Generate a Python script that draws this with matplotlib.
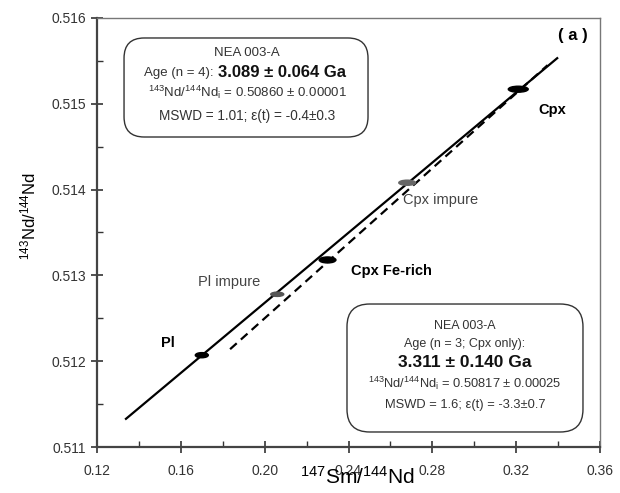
import matplotlib
matplotlib.use('Agg')
import matplotlib.pyplot as plt
from matplotlib.patches import Ellipse, FancyBboxPatch

plt.rcParams['font.family'] = ['Liberation Sans', 'DejaVu Sans']
plt.rcParams['mathtext.fontset'] = 'custom'
plt.rcParams['mathtext.rm'] = 'Liberation Sans'
plt.rcParams['mathtext.it'] = 'Liberation Sans:italic'
plt.rcParams['mathtext.bf'] = 'Liberation Sans:bold'

# dati
minerals = ["Pl", "Pl impure", "Cpx Fe-rich", "Cpx impure", "Cpx"]
sm_nd = [0.170, 0.206, 0.230, 0.268, 0.321]
nd_nd = [0.51207, 0.51278, 0.51318, 0.51408, 0.51517]
ell_w = [0.0062, 0.0062, 0.0080, 0.0080, 0.0095]
ell_h = [0.00006, 0.00005, 0.00007, 0.00006, 0.00007]

# isocrone (estremi)
iso_all_x = [0.1334, 0.3400]
iso_all_y = [0.51132, 0.51554]
iso_cpx_x = [0.1835, 0.3350]
iso_cpx_y = [0.51214, 0.51545]

xticks = [0.12, 0.16, 0.20, 0.24, 0.28, 0.32, 0.36]
yticks = [0.511, 0.512, 0.513, 0.514, 0.515, 0.516]

def main():
    fig = plt.figure(figsize=(6.2, 4.93), dpi=100)
    ax = fig.add_axes([0.1565, 0.0933, 0.8112, 0.8702])
    asp = 503.0 / 429.0  # rapporto larghezza/altezza assi in pixel

    ax.plot(iso_all_x, iso_all_y, color='black', lw=1.6, solid_capstyle='butt')
    ax.plot(iso_cpx_x, iso_cpx_y, color='black', lw=1.6, ls=(0, (4, 2.5)))

    ecol = ['black', '#555555', 'black', '#666666', 'black']
    for x, y, w, h, c in zip(sm_nd, nd_nd, ell_w, ell_h, ecol):
        ax.add_patch(Ellipse((x, y), w, h, color=c, zorder=3))

    # etichette minerali
    ax.text(0.1539, 0.51221, "Pl", fontsize=10.5, fontweight='bold', ha='center', va='center')
    ax.text(0.183, 0.51292, "Pl impure", fontsize=10.5, color='#444444', ha='center', va='center')
    ax.text(0.2603, 0.51305, "Cpx Fe-rich", fontsize=10.5, fontweight='bold', ha='center', va='center')
    ax.text(0.2837, 0.51388, "Cpx impure", fontsize=10.5, color='#444444', ha='center', va='center')
    ax.text(0.337, 0.51493, "Cpx", fontsize=10.5, fontweight='bold', ha='center', va='center')
    ax.text(0.347, 0.5158, "( a )", fontsize=12, fontweight='bold', ha='center', va='center')

    tc = '#333333'
    tr = ax.transAxes
    # riquadro in alto
    ax.add_patch(FancyBboxPatch((0.0537, 0.7226), 0.4851, 0.2308, transform=tr,
                                boxstyle="round,pad=0,rounding_size=0.04",
                                mutation_aspect=asp,
                                fc='white', ec='#333333', lw=1.0, zorder=4))
    cx = 0.2982
    ax.text(cx, 0.9184, "NEA 003-A", transform=tr, fontsize=9.5, color=tc, ha='center', va='center', zorder=5)
    ax.text(0.2386, 0.8718, "Age (n = 4): ", transform=tr, fontsize=9.5, color=tc, ha='right', va='center', zorder=5)
    ax.text(0.2396, 0.8718, "3.089 ± 0.064 Ga", transform=tr, fontsize=12, fontweight='bold',
            color='#111111', ha='left', va='center', zorder=5)
    ax.text(cx, 0.8275, r"$^{143}$Nd/$^{144}$Nd$_{\mathregular{i}}$ = 0.50860 ± 0.00001", transform=tr,
            fontsize=9.5, color=tc, ha='center', va='center', zorder=5)
    ax.text(cx, 0.7716, "MSWD = 1.01; ε(t) = -0.4±0.3", transform=tr, fontsize=9.8, color=tc,
            ha='center', va='center', zorder=5)

    # riquadro in basso
    ax.add_patch(FancyBboxPatch((0.497, 0.035), 0.4692, 0.2983, transform=tr,
                                boxstyle="round,pad=0,rounding_size=0.045",
                                mutation_aspect=asp,
                                fc='white', ec='#333333', lw=1.0, zorder=4))
    cx = 0.7316
    ax.text(cx, 0.282, "NEA 003-A", transform=tr, fontsize=9, color=tc, ha='center', va='center', zorder=5)
    ax.text(cx, 0.240, "Age (n = 3; Cpx only):", transform=tr, fontsize=9, color=tc,
            ha='center', va='center', zorder=5)
    ax.text(cx, 0.198, "3.311 ± 0.140 Ga", transform=tr, fontsize=12.5, fontweight='bold',
            color='#111111', ha='center', va='center', zorder=5)
    ax.text(cx, 0.149, r"$^{143}$Nd/$^{144}$Nd$_{\mathregular{i}}$ = 0.50817 ± 0.00025", transform=tr,
            fontsize=9.3, color=tc, ha='center', va='center', zorder=5)
    ax.text(cx, 0.098, "MSWD = 1.6; ε(t) = -3.3±0.7", transform=tr, fontsize=9.3, color=tc,
            ha='center', va='center', zorder=5)

    ax.set_xlim(0.12, 0.36)
    ax.set_ylim(0.511, 0.516)
    ax.set_xticks(xticks)
    ax.set_xticklabels(["%.2f" % t for t in xticks])
    ax.set_yticks(yticks)
    ax.set_yticklabels(["%.3f" % t for t in yticks])
    ax.set_xticks([0.14, 0.18, 0.22, 0.26, 0.30, 0.34], minor=True)
    ax.set_yticks([0.5115, 0.5125, 0.5135, 0.5145, 0.5155], minor=True)
    ax.tick_params(which='major', direction='inout', length=8, width=1.2, colors='#333333',
                   labelsize=10, labelcolor='#333333')
    ax.tick_params(which='minor', direction='in', length=4, width=1.0, colors='#333333')
    ax.tick_params(axis='x', pad=8)
    ax.tick_params(axis='y', pad=4)

    for s in ['left', 'bottom']:
        ax.spines[s].set_linewidth(1.6)
        ax.spines[s].set_color('#444444')
    for s in ['top', 'right']:
        ax.spines[s].set_linewidth(1.0)
        ax.spines[s].set_color('#777777')

    ax.set_xlabel(r"$^{147}$Sm/$^{144}$Nd", fontsize=15, ha='center', va='center')
    ax.xaxis.set_label_coords(0.517, -0.070)
    ax.set_ylabel(r"$^{143}$Nd/$^{144}$Nd", fontsize=12, ha='center', va='center')
    ax.yaxis.set_label_coords(-0.137, 0.538)

    fig.savefig("out.png", dpi=100)

if __name__ == "__main__":
    main()
